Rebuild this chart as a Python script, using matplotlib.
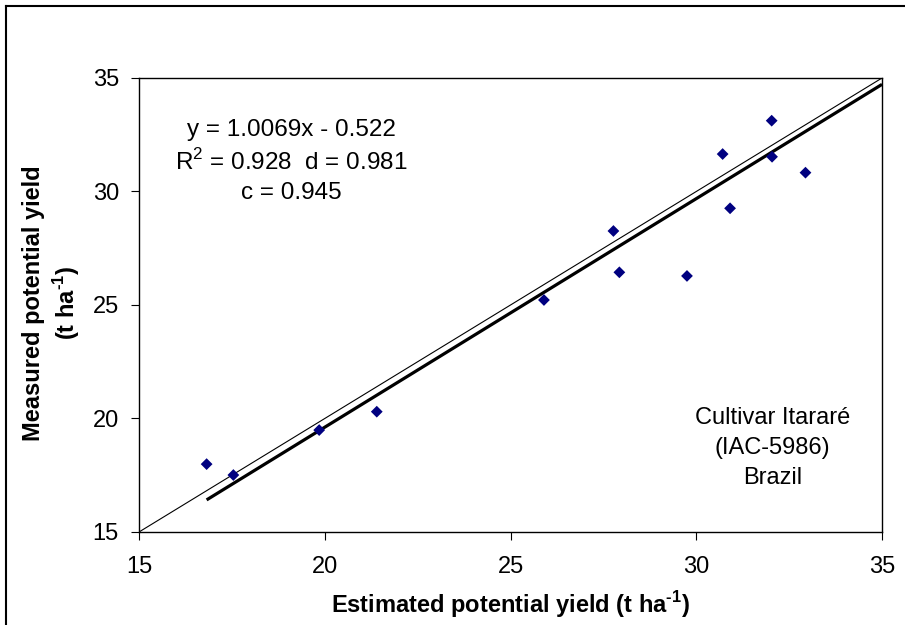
import matplotlib
matplotlib.use('Agg')
import matplotlib.pyplot as plt
from matplotlib.lines import Line2D
import numpy as np

plt.rcParams['font.family'] = ['Liberation Sans', 'DejaVu Sans']
plt.rcParams['mathtext.fontset'] = 'custom'
plt.rcParams['mathtext.rm'] = 'Liberation Sans'
plt.rcParams['mathtext.bf'] = 'Liberation Sans:bold'

# measured vs estimated potential yield (t/ha)
estimated = [16.82, 17.54, 19.85, 21.40, 25.90, 27.77, 27.93, 29.75,
             30.71, 30.91, 32.03, 32.04, 32.94]
measured = [17.99, 17.51, 19.49, 20.30, 25.22, 28.26, 26.44, 26.28,
            31.65, 29.26, 33.12, 31.53, 30.83]
slope = 1.0069
intercept = -0.522
ticks = [15, 20, 25, 30, 35]

fig = plt.figure(figsize=(9.05, 6.25), dpi=100)
ax = fig.add_axes([0.1536, 0.1488, 0.8210, 0.7264])

# 1:1 line
ax.plot([15, 35], [15, 35], color='black', lw=0.8, zorder=2)
# fitted trendline
xfit = np.array([min(estimated), 35])
ax.plot(xfit, slope * xfit + intercept, color='black', lw=2.3, zorder=2,
        solid_capstyle='butt')

ax.scatter(estimated, measured, marker='D', s=36, color='#000080',
           edgecolors='none', zorder=3)

ax.set_xlim(15, 35)
ax.set_ylim(15, 35)
ax.set_xticks(ticks)
ax.set_yticks(ticks)
ax.tick_params(direction='out', length=6, width=0.8, labelsize=17)
ax.tick_params(axis='x', pad=11)
ax.tick_params(axis='y', pad=8.5)
for s in ax.spines.values():
    s.set_linewidth(1.0)

ax.set_xlabel('Estimated potential yield (t ha$^{\\mathbf{‐1}}$)', fontsize=17,
              fontweight='bold')
ax.set_ylabel('Measured potential yield\n(t ha$^{\\mathbf{‐1}}$)', fontsize=17,
              fontweight='bold', linespacing=1.25)
ax.xaxis.set_label_coords(0.5, -0.126)
ax.yaxis.set_label_coords(-0.077, 0.505)

ax.text(0.2046, 0.817, 'y = 1.0069x - 0.522\nR$^2$ = 0.928  d = 0.981\nc = 0.945',
        transform=ax.transAxes, ha='center', va='center', fontsize=17.5,
        linespacing=1.4)
ax.text(0.853, 0.185, 'Cultivar Itararé\n(IAC-5986)\nBrazil',
        transform=ax.transAxes, ha='center', va='center', fontsize=17,
        linespacing=1.45)

# outer frame (top and left edges visible)
fig.add_artist(Line2D([6 / 905, 1.0], [1 - 6 / 625, 1 - 6 / 625],
                      transform=fig.transFigure, color='black', lw=1.5))
fig.add_artist(Line2D([6 / 905, 6 / 905], [0.0, 1 - 6 / 625],
                      transform=fig.transFigure, color='black', lw=1.5))

fig.savefig('out.png', dpi=100)
